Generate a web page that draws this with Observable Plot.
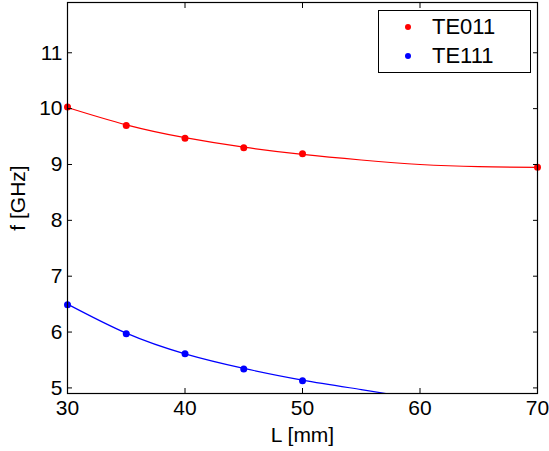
<!DOCTYPE html>
<html>
<head>
<meta charset="utf-8">
<script src="https://cdn.jsdelivr.net/npm/d3@7"></script>
<script src="https://cdn.jsdelivr.net/npm/@observablehq/plot@0.6"></script>
<style>
  html, body { margin: 0; padding: 0; background: #fff; }
  #wrap { position: relative; width: 549px; height: 451px; font-family: "Liberation Sans", Arial, sans-serif; }
  #wrap svg text { font-size: 21px; font-family: "Liberation Sans", Arial, sans-serif; }
  #legend { position: absolute; left: 378px; top: 10px; width: 153px; height: 63px; border: 1px solid #000; background: #fff; box-sizing: border-box; font-size: 22px; }
  .item { position: absolute; left: 0; height: 26px; display: flex; align-items: center; line-height: 26px; }
  .sw { width: 6px; height: 6px; border-radius: 50%; margin-left: 26px; margin-right: 21px; }
</style>
</head>
<body>
<div id="wrap"></div>
<script>
// Data points
const te011_pts_x = [30, 35, 40, 45, 50, 70];
const te011_pts = [10.03, 9.70, 9.47, 9.30, 9.19, 8.95];
const te111_pts_x = [30, 35, 40, 45, 50];
const te111_pts = [6.49, 5.97, 5.61, 5.34, 5.13];
// Fitted curves
const te011_fit_x = [30, 35, 40, 45, 50, 55, 60, 65, 70];
const te011_fit = [10.02, 9.71, 9.48, 9.31, 9.18, 9.08, 9.00, 8.96, 8.95];
const te111_fit_x = [30, 35, 40, 45, 50, 55, 60];
const te111_fit = [6.50, 5.98, 5.61, 5.35, 5.14, 4.97, 4.80];
const xTicks = [30, 40, 50, 60, 70];
const yTicks = [5, 6, 7, 8, 9, 10, 11];
const seriesNames = ["TE011", "TE111"];
const seriesColors = ["#ff0000", "#0000ff"];

const pts011 = te011_pts_x.map((x, i) => ({x, y: te011_pts[i]}));
const pts111 = te111_pts_x.map((x, i) => ({x, y: te111_pts[i]}));
const fit011 = te011_fit_x.map((x, i) => ({x, y: te011_fit[i]}));
const fit111 = te111_fit_x.map((x, i) => ({x, y: te111_fit[i]}));

const chart = Plot.plot({
  width: 549,
  height: 451,
  marginLeft: 67,
  marginRight: 12,
  marginTop: 2,
  marginBottom: 58,
  style: {fontFamily: "'Liberation Sans', Arial, sans-serif", fontSize: "21px", background: "#fff", color: "#000"},
  x: {domain: [30, 70]},
  y: {domain: [4.9, 11.9]},
  marks: [
    Plot.line(fit011, {x: "x", y: "y", stroke: seriesColors[0], strokeWidth: 1.2, curve: "natural", clip: true}),
    Plot.line(fit111, {x: "x", y: "y", stroke: seriesColors[1], strokeWidth: 1.2, curve: "natural", clip: true}),
    Plot.dot(pts011, {x: "x", y: "y", fill: seriesColors[0], r: 3.5}),
    Plot.dot(pts111, {x: "x", y: "y", fill: seriesColors[1], r: 3.5}),
    Plot.axisX(xTicks, {anchor: "bottom", tickSize: 0, tickPadding: 7, tickFormat: "d", label: "L [mm]", labelAnchor: "center", labelOffset: 48, labelArrow: "none", fontSize: 21}),
    Plot.axisX(xTicks, {anchor: "bottom", tickSize: -5, text: null, label: null}),
    Plot.axisX(xTicks, {anchor: "top", tickSize: -5, text: null, label: null}),
    Plot.axisY(yTicks, {anchor: "left", tickSize: 0, tickPadding: 5, tickFormat: "d", label: "f [GHz]", labelAnchor: "center", labelOffset: 57, labelArrow: "none", fontSize: 21}),
    Plot.axisY(yTicks, {anchor: "left", tickSize: -5, text: null, label: null}),
    Plot.axisY(yTicks, {anchor: "right", tickSize: -5, text: null, label: null}),
    Plot.frame({stroke: "#000", strokeWidth: 1.2})
  ]
});
const wrap = document.getElementById("wrap");
wrap.appendChild(chart);

const legend = document.createElement("div");
legend.id = "legend";
seriesNames.forEach((name, i) => {
  const item = document.createElement("div");
  item.className = "item";
  item.style.top = (i === 0 ? 3 : 32) + "px";
  const sw = document.createElement("div");
  sw.className = "sw";
  sw.style.background = seriesColors[i];
  const t = document.createElement("span");
  t.textContent = name;
  item.appendChild(sw);
  item.appendChild(t);
  legend.appendChild(item);
});
wrap.appendChild(legend);
</script>
</body>
</html>
